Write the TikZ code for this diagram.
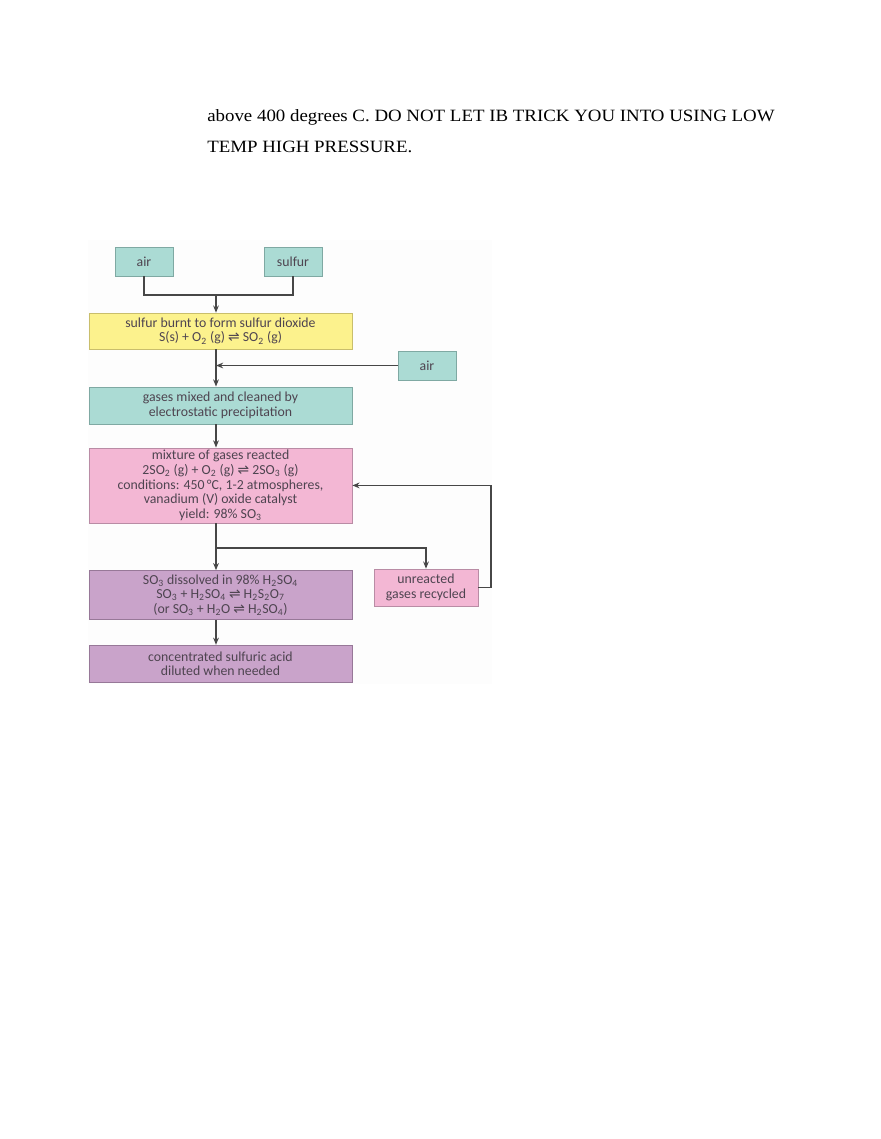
\documentclass[tikz,border=0pt]{standalone}
\usepackage{fontspec}
\setmainfont{Liberation Serif}
\newfontfamily\handfont{Carlito}
\newfontfamily\glyphfont{DejaVu Sans}
\usepackage{xcolor}
\usepackage{graphicx}
\usetikzlibrary{arrows.meta, positioning, calc}

\definecolor{tealfill}{HTML}{ABDBD4}
\definecolor{tealline}{HTML}{7FA9A3}
\definecolor{yellowfill}{HTML}{FCF28D}
\definecolor{yellowline}{HTML}{C9BE6C}
\definecolor{pinkfill}{HTML}{F3B7D4}
\definecolor{pinkline}{HTML}{B98CA5}
\definecolor{purplefill}{HTML}{C9A3CA}
\definecolor{purpleline}{HTML}{977898}
\definecolor{inkgray}{HTML}{474747}
\definecolor{penink}{HTML}{4E4450}
\definecolor{photobg}{HTML}{FDFDFD}

\newcommand{\eqm}{{\glyphfont ⇌}}

\begin{document}
\begin{tikzpicture}[
        x=0.6955pt, y=-0.6955pt,
        >={Stealth[length=5pt, width=4pt]},
        box/.style={
            rectangle, draw, line width=0.5pt, inner sep=0.5pt,
            text centered, align=center, text=penink,
            font=\handfont\fontsize{9.6}{10.2}\selectfont
        },
        feed/.style={box, fill=tealfill, draw=tealline,
            minimum width=40.3pt, minimum height=20.2pt},
        wide/.style={box, minimum width=182.9pt},
        yellowbox/.style={wide, fill=yellowfill, draw=yellowline, minimum height=25pt},
        tealbox/.style={wide, fill=tealfill, draw=tealline, minimum height=25.7pt},
        pinkbox/.style={wide, fill=pinkfill, draw=pinkline, minimum height=52.2pt},
        purplebox/.style={wide, fill=purplefill, draw=purpleline, minimum height=34pt},
        arrow/.style={->, line width=1.1pt, inkgray},
        line/.style={line width=1.1pt, inkgray},
        note/.style={anchor=base west, inner sep=0pt, font=\fontsize{12}{14}\selectfont},
    ]
    \useasboundingbox (0,0) rectangle (880,1139);

    % ── Text above the figure ──
    \node[note] (note1) at (207,121.5)
        {\scalebox{1.094}[1]{above 400 degrees C. DO NOT LET IB TRICK YOU INTO USING LOW}};
    \node[note] (note2) at (207,152)
        {\scalebox{1.094}[1]{TEMP HIGH PRESSURE.}};

    % ── Photo background ──
    \fill[photobg] (88,240) rectangle (492,684);

    % ── Feeds ──
    \node[feed] (air) at (144,261.5) {air};
    \node[feed] (sulfur) at (293,261.5) {sulfur};

    % ── Main column ──
    \node[yellowbox] (burn) at (220.5,331)
        {sulfur burnt to form sulfur dioxide\\
         S(s) + O\textsubscript{2} (g) \eqm{} SO\textsubscript{2} (g)};
    \node[feed] (airtwo) at (427,365.5) {air};
    \node[tealbox, below=25.9pt of burn] (clean)
        {gases mixed and cleaned by\\electrostatic precipitation};
    \node[pinkbox, below=16.2pt of clean] (react)
        {mixture of gases reacted\\
         2SO\textsubscript{2} (g) + O\textsubscript{2} (g) \eqm{} 2SO\textsubscript{3} (g)\\
         conditions: 450\,°C, 1-2 atmospheres,\\
         vanadium (V) oxide catalyst\\
         yield: 98\% SO\textsubscript{3}};
    \node[purplebox, below=32.6pt of react] (absorb)
        {SO\textsubscript{3} dissolved in 98\% H\textsubscript{2}SO\textsubscript{4}\\
         SO\textsubscript{3} + H\textsubscript{2}SO\textsubscript{4} \eqm{} H\textsubscript{2}S\textsubscript{2}O\textsubscript{7}\\
         (or SO\textsubscript{3} + H\textsubscript{2}O \eqm{} H\textsubscript{2}SO\textsubscript{4})};
    \node[purplebox, minimum height=25.7pt, below=17.4pt of absorb] (acid)
        {concentrated sulfuric acid\\diluted when needed};
    \node[box, fill=pinkfill, draw=pinkline, minimum width=72.3pt, minimum height=25.7pt]
        (recycle) at (426,587.5) {unreacted\\gases recycled};

    % ── Connectors ──
    \coordinate (spine) at (216,0);
    \coordinate (merge) at (216,295);
    \coordinate (split) at (216,548);
    \coordinate (loop) at (491,0);

    \draw[line] (air.south) |- (merge);
    \draw[line] (sulfur.south) |- (merge);
    \draw[arrow] (merge) -- (burn.north -| spine);
    \draw[arrow] (burn.south -| spine) -- (clean.north -| spine);
    \draw[arrow] (airtwo.west) -- (airtwo.west -| spine);
    \draw[arrow] (clean.south -| spine) -- (react.north -| spine);
    \draw[arrow] (react.south -| spine) -- (absorb.north -| spine);
    \draw[arrow] (split) -| (recycle.north);
    \draw[arrow] (recycle.east) -| (loop |- react.east) -- (react.east);
    \draw[arrow] (absorb.south -| spine) -- (acid.north -| spine);

\end{tikzpicture}
\end{document}
